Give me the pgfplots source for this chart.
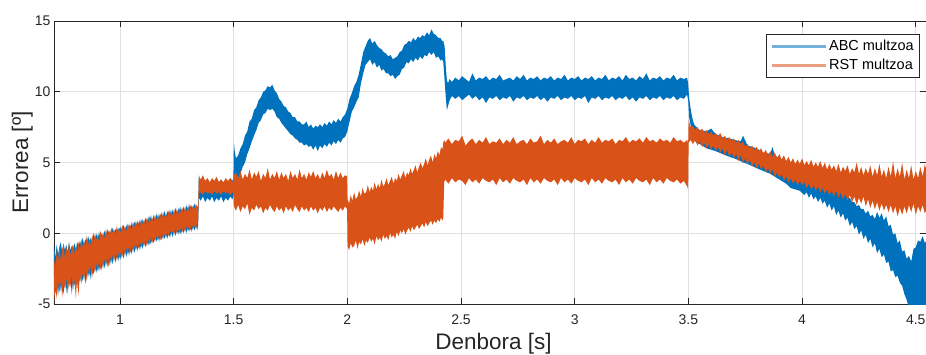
\documentclass[border=0pt]{standalone}
\usepackage{fontspec}
\setmainfont{Liberation Sans}
\usepackage{pgfplots}
\usepackage{pgfplotstable}
\usepgfplotslibrary{fillbetween}
\pgfplotsset{compat=1.18}
\definecolor{mblue}{HTML}{0072BD}
\definecolor{morange}{HTML}{D95319}
\definecolor{axgray}{HTML}{262626}
\definecolor{gridgray}{HTML}{E0E0E0}

% ABC multzoa: envelope (lo, hi) of the noisy trace
\pgfplotstableread{
x lo hi
0.710 -3.1 -0.9
0.716 -4.3 -1.7
0.722 -3.5 -0.8
0.728 -4.4 -1.5
0.734 -3.2 -1.0
0.740 -4.1 -0.6
0.746 -3.5 -1.4
0.752 -4.3 -0.7
0.758 -3.3 -1.2
0.764 -4.2 -0.8
0.770 -3.2 -1.3
0.776 -3.9 -0.6
0.782 -3.1 -1.2
0.788 -4.3 -0.9
0.794 -3.3 -1.1
0.800 -3.7 -0.7
0.806 -3.0 -1.2
0.812 -3.9 -0.6
0.818 -2.9 -1.0
0.824 -3.5 -0.5
0.830 -2.8 -0.9
0.836 -3.4 -0.3
0.842 -2.7 -0.8
0.848 -3.6 -0.4
0.854 -2.6 -0.7
0.860 -3.1 -0.2
0.866 -2.5 -0.6
0.872 -3.3 -0.3
0.878 -2.4 -0.7
0.884 -2.9 0.0
0.890 -2.3 -0.4
0.896 -2.8 0.0
0.902 -2.2 -0.5
0.908 -2.7 0.1
0.914 -2.1 -0.3
0.920 -2.6 0.0
0.926 -1.9 -0.4
0.932 -2.5 0.2
0.938 -1.8 -0.2
0.944 -2.4 0.3
0.950 -1.7 -0.1
0.956 -2.3 0.2
0.962 -1.6 -0.1
0.968 -2.2 0.4
0.974 -1.5 0.0
0.980 -2.1 0.3
0.986 -1.5 0.0
0.992 -2.0 0.4
0.998 -1.4 0.1
1.004 -1.9 0.5
1.010 -1.3 0.1
1.016 -1.8 0.6
1.022 -1.2 0.2
1.028 -1.7 0.6
1.034 -1.1 0.2
1.040 -1.6 0.7
1.046 -1.0 0.3
1.052 -1.5 0.8
1.058 -0.9 0.4
1.064 -1.4 0.8
1.070 -0.8 0.4
1.076 -1.3 0.9
1.082 -0.7 0.5
1.088 -1.2 1.0
1.094 -0.7 0.5
1.100 -1.1 1.0
1.106 -0.6 0.6
1.112 -1.0 1.1
1.118 -0.5 0.7
1.124 -0.9 1.2
1.130 -0.4 0.7
1.136 -0.8 1.3
1.142 -0.4 0.8
1.148 -0.7 1.3
1.154 -0.3 0.9
1.160 -0.6 1.4
1.166 -0.2 0.9
1.172 -0.6 1.4
1.178 -0.1 1.0
1.184 -0.5 1.5
1.190 -0.1 1.0
1.196 -0.4 1.6
1.202 0.0 1.1
1.208 -0.4 1.6
1.214 0.0 1.2
1.220 -0.3 1.7
1.226 0.1 1.2
1.232 -0.3 1.7
1.238 0.2 1.3
1.244 -0.2 1.8
1.250 0.2 1.3
1.256 -0.1 1.8
1.262 0.3 1.4
1.268 -0.1 1.9
1.274 0.3 1.4
1.280 0.0 1.9
1.286 0.4 1.5
1.292 0.0 2.0
1.298 0.4 1.5
1.304 0.1 2.1
1.310 0.5 1.6
1.316 0.1 2.0
1.322 0.5 1.7
1.328 0.2 2.1
1.334 0.6 1.7
1.340 0.2 1.9
1.344 0.6 1.9
1.347 2.5 4.1
1.355 2.3 3.7
1.365 2.6 3.9
1.375 2.2 3.6
1.385 2.5 3.8
1.395 2.3 3.5
1.405 2.6 3.8
1.415 2.2 3.6
1.425 2.5 3.9
1.435 2.3 3.6
1.445 2.6 3.8
1.455 2.2 3.5
1.465 2.5 3.8
1.475 2.3 3.6
1.485 2.6 3.9
1.495 2.4 3.7
1.499 2.6 3.9
1.501 3.0 6.4
1.505 3.5 5.8
1.510 3.7 5.3
1.520 3.9 5.5
1.530 4.2 6.0
1.540 4.7 6.3
1.550 5.0 6.9
1.560 5.6 7.2
1.570 6.0 7.9
1.580 6.5 8.1
1.590 6.9 8.7
1.600 7.3 8.9
1.610 7.8 9.4
1.620 8.0 9.6
1.630 8.4 10.0
1.640 8.5 10.1
1.650 8.8 10.4
1.660 8.7 10.3
1.670 8.8 10.5
1.680 8.6 10.1
1.690 8.2 9.9
1.700 8.1 9.5
1.710 7.8 9.3
1.720 7.6 9.0
1.730 7.4 8.9
1.740 7.2 8.6
1.750 7.0 8.5
1.760 6.9 8.2
1.770 6.7 8.2
1.780 6.6 7.9
1.790 6.4 7.9
1.800 6.4 7.7
1.810 6.2 7.7
1.820 6.3 7.9
1.830 6.1 7.5
1.840 6.2 7.7
1.850 5.9 7.4
1.860 6.2 7.6
1.870 5.8 7.5
1.880 6.2 7.7
1.890 6.0 7.5
1.900 6.3 7.8
1.910 6.1 7.6
1.920 6.4 7.9
1.930 6.2 7.7
1.940 6.5 8.0
1.950 6.3 7.8
1.960 6.6 8.1
1.970 6.4 7.9
1.980 6.7 8.2
1.990 6.8 8.4
2.000 7.2 8.8
2.010 7.9 9.5
2.020 8.6 9.9
2.030 8.9 10.4
2.040 9.3 10.7
2.050 9.6 11.2
2.060 10.6 12.0
2.070 11.3 12.8
2.080 11.9 13.2
2.090 12.1 13.6
2.100 12.3 13.8
2.110 11.9 13.4
2.120 12.1 13.6
2.130 11.7 13.3
2.140 11.9 13.1
2.150 11.5 13.0
2.160 11.6 12.8
2.170 11.3 12.7
2.180 11.3 12.5
2.190 11.1 12.6
2.200 11.2 12.3
2.210 10.9 12.4
2.220 11.1 12.5
2.230 11.2 12.8
2.240 11.6 12.9
2.250 11.7 13.3
2.260 12.1 13.4
2.270 12.0 13.6
2.280 12.3 13.5
2.290 12.1 13.8
2.300 12.4 13.6
2.310 12.2 13.9
2.320 12.5 13.8
2.330 12.3 14.0
2.340 12.6 13.9
2.350 12.5 14.2
2.360 12.8 14.0
2.370 12.6 14.4
2.380 12.8 14.1
2.390 12.4 14.0
2.400 12.5 13.8
2.410 12.2 13.8
2.416 12.3 13.6
2.422 12.1 13.6
2.428 10.8 13.2
2.433 9.6 11.8
2.438 8.7 10.8
2.443 9.0 10.6
2.450 9.4 10.9
2.460 9.7 10.7
2.475 9.5 11.0
2.490 9.7 10.8
2.505 9.4 11.1
2.520 9.6 10.9
2.535 9.8 10.7
2.550 9.5 11.3
2.565 9.7 10.8
2.580 9.4 11.0
2.595 9.6 10.9
2.610 9.2 11.1
2.625 9.6 10.8
2.640 9.5 11.0
2.655 9.7 10.9
2.670 9.4 11.2
2.685 9.6 10.8
2.700 9.5 10.9
2.715 9.7 11.0
2.730 9.3 10.8
2.745 9.6 11.1
2.760 9.5 10.9
2.775 9.7 11.2
2.790 9.4 10.8
2.805 9.6 11.0
2.820 9.5 10.9
2.835 9.7 11.1
2.850 9.4 10.8
2.865 9.6 11.0
2.880 9.3 10.9
2.895 9.6 11.1
2.910 9.5 10.8
2.925 9.7 11.0
2.940 9.4 10.9
2.955 9.6 11.2
2.970 9.5 10.8
2.985 9.7 11.0
3.000 9.4 10.9
3.015 9.6 11.1
3.030 9.5 10.8
3.045 9.7 11.0
3.060 9.2 10.9
3.075 9.6 11.1
3.090 9.5 10.8
3.105 9.7 11.0
3.120 9.4 10.9
3.135 9.6 11.2
3.150 9.5 10.8
3.165 9.7 11.0
3.180 9.4 10.9
3.195 9.6 11.1
3.210 9.5 10.8
3.225 9.7 11.2
3.240 9.4 10.9
3.255 9.6 11.0
3.270 9.3 10.8
3.285 9.6 11.1
3.300 9.5 10.9
3.315 9.7 11.3
3.330 9.4 10.8
3.345 9.6 11.0
3.360 9.5 10.9
3.375 9.7 11.1
3.390 9.4 10.8
3.405 9.6 11.0
3.420 9.5 10.9
3.435 9.7 11.2
3.450 9.4 10.8
3.465 9.6 11.0
3.480 9.5 10.9
3.494 9.8 11.0
3.499 9.4 10.6
3.503 8.2 9.6
3.508 7.8 9.0
3.513 7.4 8.5
3.518 7.0 8.1
3.525 6.6 7.7
3.535 6.4 7.5
3.550 6.3 7.3
3.580 6.0 7.2
3.600 5.9 7.4
3.620 5.8 7.0
3.650 5.6 6.8
3.680 5.4 6.7
3.700 5.3 6.6
3.730 5.1 6.5
3.740 5.0 6.9
3.760 4.9 6.2
3.800 4.6 6.0
3.830 4.4 5.7
3.860 4.2 5.6
3.870 4.1 6.1
3.880 4.0 5.5
3.900 3.8 5.3
3.930 3.5 5.1
3.950 3.2 4.9
3.970 3.1 4.8
3.990 3.0 4.7
4.010 2.7 4.4
4.020 2.9 4.3
4.030 2.5 4.2
4.040 2.8 4.0
4.050 2.4 4.1
4.060 2.6 3.8
4.070 2.2 3.9
4.080 2.5 3.7
4.090 2.1 3.8
4.100 2.3 3.5
4.110 1.8 3.6
4.120 2.1 3.3
4.130 1.6 3.4
4.140 1.9 3.1
4.150 1.3 3.2
4.160 1.6 2.9
4.170 1.1 3.0
4.180 1.4 2.7
4.190 0.9 2.8
4.200 1.1 2.5
4.210 0.5 2.5
4.220 0.8 2.2
4.230 0.3 2.2
4.240 0.5 1.9
4.250 -0.1 2.0
4.260 0.2 1.7
4.270 -0.4 1.7
4.280 -0.1 1.4
4.290 -0.7 1.6
4.300 -0.4 1.2
4.310 -1.0 1.3
4.320 -0.7 1.0
4.330 -1.4 1.5
4.340 -1.1 1.1
4.350 -1.7 1.4
4.360 -1.5 0.9
4.370 -2.1 1.2
4.380 -2.0 0.5
4.390 -2.7 0.6
4.400 -2.6 -0.1
4.410 -3.1 0.0
4.420 -3.0 -0.7
4.430 -3.5 -0.5
4.440 -3.7 -1.3
4.450 -4.3 -1.2
4.460 -4.7 -1.8
4.470 -5.3 -1.6
4.480 -5.5 -2.0
4.490 -5.5 -1.1
4.500 -5.5 -1.0
4.510 -5.5 -0.5
4.520 -5.5 -0.6
4.530 -5.5 -0.2
4.540 -5.5 -0.7
4.550 -5.5 -0.4
}\blueT

% RST multzoa: envelope (lo, hi) of the noisy trace
\pgfplotstableread{
x lo hi
0.710 -5.0 -1.8
0.716 -3.8 -2.4
0.722 -4.6 -1.2
0.728 -3.5 -2.0
0.734 -4.2 -0.9
0.740 -3.3 -1.9
0.746 -4.5 -1.1
0.752 -3.6 -0.8
0.758 -3.9 -1.8
0.764 -3.1 -1.0
0.770 -4.3 -1.5
0.776 -3.4 -0.7
0.782 -3.8 -1.6
0.788 -3.0 -1.0
0.794 -4.0 -0.8
0.800 -3.2 -1.5
0.806 -4.6 -0.9
0.812 -3.1 -1.3
0.818 -4.4 -0.6
0.824 -2.9 -1.2
0.830 -3.6 -0.4
0.836 -2.8 -1.0
0.842 -3.3 -0.6
0.848 -2.6 -0.9
0.854 -3.4 -0.2
0.860 -2.5 -0.8
0.866 -3.0 -0.4
0.872 -2.3 -0.9
0.878 -3.1 -0.1
0.884 -2.4 -0.6
0.890 -2.8 0.0
0.896 -2.1 -0.5
0.902 -2.7 -0.1
0.908 -2.0 -0.6
0.914 -2.6 0.2
0.920 -2.0 -0.3
0.926 -2.5 0.1
0.932 -1.8 -0.4
0.938 -2.3 0.3
0.944 -1.7 -0.2
0.950 -2.4 0.2
0.956 -1.6 -0.1
0.962 -2.1 0.4
0.968 -1.5 0.0
0.974 -2.0 0.3
0.980 -1.4 -0.1
0.986 -1.9 0.5
0.992 -1.3 0.1
0.998 -1.8 0.4
1.004 -1.3 0.0
1.010 -1.7 0.6
1.016 -1.1 0.2
1.022 -1.6 0.5
1.028 -1.0 0.1
1.034 -1.5 0.7
1.040 -0.9 0.3
1.046 -1.4 0.6
1.052 -0.9 0.2
1.058 -1.3 0.8
1.064 -0.8 0.4
1.070 -1.2 0.9
1.076 -0.7 0.4
1.082 -1.1 0.8
1.088 -0.6 0.5
1.094 -1.0 1.0
1.100 -0.6 0.6
1.106 -0.9 1.0
1.112 -0.5 0.6
1.118 -0.9 1.1
1.124 -0.4 0.7
1.130 -0.8 1.2
1.136 -0.3 0.8
1.142 -0.7 1.1
1.148 -0.3 0.8
1.154 -0.6 1.3
1.160 -0.2 0.9
1.166 -0.5 1.3
1.172 -0.1 0.9
1.178 -0.5 1.4
1.184 0.0 1.0
1.190 -0.4 1.5
1.196 0.0 1.1
1.202 -0.3 1.4
1.208 0.1 1.1
1.214 -0.2 1.6
1.220 0.2 1.2
1.226 -0.1 1.6
1.232 0.2 1.2
1.238 -0.1 1.7
1.244 0.3 1.3
1.250 0.0 1.7
1.256 0.3 1.3
1.262 0.0 1.8
1.268 0.4 1.4
1.274 0.1 1.8
1.280 0.4 1.4
1.286 0.1 1.9
1.292 0.5 1.5
1.298 0.2 1.9
1.304 0.5 1.5
1.310 0.2 2.0
1.316 0.6 1.6
1.322 0.3 2.0
1.328 0.6 1.7
1.334 0.3 2.1
1.340 0.7 1.8
1.344 0.7 2.0
1.347 2.8 4.0
1.355 2.9 3.8
1.365 2.7 4.1
1.375 3.0 3.7
1.385 2.8 3.9
1.395 2.9 3.6
1.405 2.7 3.9
1.415 3.0 3.7
1.425 2.8 4.0
1.435 2.9 3.6
1.445 2.7 3.8
1.455 3.0 3.6
1.465 2.8 3.9
1.475 2.9 3.7
1.485 2.7 3.9
1.495 2.9 3.6
1.499 2.8 3.8
1.501 1.9 4.1
1.510 1.6 4.3
1.520 2.0 3.9
1.530 1.5 4.4
1.540 1.9 3.8
1.550 1.7 4.2
1.560 2.1 3.9
1.570 1.3 4.5
1.580 1.8 3.8
1.590 1.6 4.3
1.600 2.0 4.0
1.610 1.7 4.4
1.620 1.9 3.7
1.630 1.4 4.2
1.640 1.8 3.9
1.650 1.6 4.6
1.660 2.0 3.8
1.670 1.7 4.2
1.680 1.5 3.9
1.690 1.9 4.4
1.700 1.6 3.8
1.710 1.8 4.3
1.720 1.4 3.9
1.730 1.9 4.2
1.740 1.6 3.7
1.750 1.8 4.4
1.760 1.5 3.9
1.770 2.0 4.2
1.780 1.7 3.8
1.790 1.5 4.5
1.800 1.9 3.9
1.810 1.6 4.2
1.820 1.8 3.8
1.830 1.5 4.3
1.840 1.9 4.0
1.850 1.6 4.4
1.860 1.8 3.9
1.870 1.4 4.2
1.880 1.8 3.8
1.890 1.6 4.3
1.900 1.9 3.9
1.910 1.5 4.5
1.920 1.8 4.0
1.930 1.6 4.2
1.940 1.9 3.8
1.950 1.7 4.4
1.960 1.5 3.9
1.970 1.8 4.3
1.980 1.6 3.9
1.990 1.9 4.1
1.999 1.7 4.0
2.001 -0.9 2.4
2.008 -1.2 2.1
2.015 -0.7 2.7
2.022 -1.0 2.3
2.030 -0.9 2.9
2.037 -0.5 2.4
2.045 -1.1 2.6
2.052 -0.6 3.0
2.060 -0.8 2.6
2.067 -0.4 3.2
2.075 -0.9 2.8
2.083 -0.5 2.9
2.090 -0.7 3.4
2.098 -0.3 2.9
2.105 -0.6 3.3
2.113 -0.4 3.0
2.120 -0.8 3.6
2.128 -0.2 3.1
2.135 -0.5 3.5
2.143 -0.3 3.2
2.150 -0.6 3.8
2.158 -0.1 3.3
2.165 -0.4 3.5
2.173 -0.2 3.9
2.180 -0.5 3.4
2.188 0.0 3.7
2.195 -0.3 4.0
2.203 -0.1 3.5
2.210 -0.4 3.9
2.218 0.1 3.7
2.225 -0.2 4.2
2.233 0.2 3.8
2.240 0.0 4.1
2.248 0.3 4.4
2.255 -0.1 3.9
2.263 0.2 4.3
2.270 0.4 4.1
2.278 0.1 4.6
2.285 0.5 4.2
2.293 0.2 4.5
2.300 0.4 4.8
2.308 0.6 4.3
2.315 0.3 4.7
2.323 0.5 5.0
2.330 0.7 4.6
2.338 0.4 4.9
2.345 0.8 5.3
2.353 0.5 4.8
2.360 0.7 5.2
2.368 0.9 5.5
2.375 0.6 5.0
2.383 0.9 5.6
2.390 0.7 5.3
2.398 1.0 5.8
2.405 0.8 5.5
2.412 1.1 6.1
2.418 0.9 5.9
2.422 1.1 6.4
2.426 3.6 6.6
2.430 3.8 6.4
2.445 3.5 6.7
2.460 3.9 6.3
2.475 3.6 6.6
2.490 3.8 6.5
2.505 3.7 6.9
2.520 3.4 6.2
2.535 3.9 6.5
2.550 3.6 6.7
2.565 3.8 6.3
2.580 3.5 6.6
2.595 3.9 6.4
2.610 3.7 6.8
2.625 3.6 6.3
2.640 3.8 6.5
2.655 3.4 6.4
2.670 3.9 6.7
2.685 3.6 6.3
2.700 3.8 6.6
2.715 3.5 6.4
2.730 3.9 6.8
2.745 3.7 6.3
2.760 3.6 6.5
2.775 3.8 6.6
2.790 3.4 6.3
2.805 3.9 6.7
2.820 3.6 6.4
2.835 3.8 6.5
2.850 3.5 6.9
2.865 3.9 6.3
2.880 3.7 6.6
2.895 3.6 6.4
2.910 3.8 6.7
2.925 3.4 6.3
2.940 3.9 6.5
2.955 3.6 6.6
2.970 3.8 6.4
2.985 3.5 6.8
3.000 3.9 6.3
3.015 3.7 6.6
3.030 3.6 6.5
3.045 3.8 6.7
3.060 3.4 6.3
3.075 3.9 6.6
3.090 3.6 6.4
3.105 3.8 6.8
3.120 3.5 6.4
3.135 3.9 6.6
3.150 3.7 6.5
3.165 3.6 6.7
3.180 3.8 6.3
3.195 3.4 6.6
3.210 3.9 6.5
3.225 3.6 6.8
3.240 3.8 6.4
3.255 3.5 6.6
3.270 3.9 6.5
3.285 3.7 6.7
3.300 3.6 6.4
3.315 3.8 6.8
3.330 3.4 6.5
3.345 3.9 6.6
3.360 3.6 6.4
3.375 3.8 6.7
3.390 3.5 6.5
3.405 3.9 6.6
3.420 3.7 6.4
3.435 3.6 6.8
3.450 3.8 6.5
3.465 3.5 6.6
3.480 3.7 6.4
3.495 3.3 6.6
3.499 3.1 6.3
3.501 6.4 8.0
3.510 6.6 7.5
3.520 6.3 7.6
3.530 6.6 7.3
3.540 6.2 7.5
3.550 6.5 7.2
3.560 6.1 7.4
3.570 6.4 7.1
3.580 6.0 7.3
3.590 6.3 7.0
3.600 5.9 7.2
3.610 6.2 6.9
3.620 5.8 7.1
3.630 6.1 6.8
3.640 5.7 7.1
3.650 6.0 6.7
3.660 5.5 6.9
3.670 5.9 6.6
3.680 5.4 6.8
3.690 5.7 6.5
3.700 5.3 6.7
3.710 5.6 6.4
3.720 5.1 6.6
3.730 5.5 6.3
3.740 5.0 6.5
3.750 5.3 6.1
3.760 4.9 6.3
3.770 5.2 6.0
3.780 4.7 6.2
3.790 5.0 5.9
3.800 4.6 6.1
3.810 4.9 5.8
3.820 4.5 6.0
3.830 4.8 5.6
3.840 4.3 5.9
3.850 4.6 5.5
3.860 4.2 5.8
3.870 4.5 5.4
3.880 4.0 5.7
3.890 4.3 5.3
3.900 3.9 5.6
3.910 4.2 5.2
3.920 3.7 5.5
3.930 4.0 5.1
3.940 3.6 5.4
3.950 3.9 5.0
3.960 3.5 5.3
3.970 3.8 4.9
3.980 3.4 5.2
3.990 3.7 4.9
4.000 3.4 5.3
4.010 3.6 4.8
4.020 3.2 5.1
4.030 3.5 4.8
4.040 3.1 5.2
4.050 3.4 4.7
4.060 3.0 5.0
4.070 3.3 4.7
4.080 2.9 5.1
4.090 3.2 4.6
4.100 2.8 5.0
4.110 3.1 4.5
4.120 2.7 4.9
4.130 3.0 4.5
4.140 2.6 4.8
4.150 3.0 4.4
4.160 2.5 4.9
4.170 2.9 4.3
4.180 2.4 4.7
4.190 2.8 4.4
4.200 2.3 4.8
4.210 2.7 4.2
4.220 2.2 4.6
4.230 2.6 4.3
4.240 2.0 5.0
4.250 2.5 4.2
4.260 2.1 4.7
4.270 2.6 4.1
4.280 1.9 4.6
4.290 2.4 4.2
4.300 1.8 4.8
4.310 2.3 4.0
4.320 1.7 4.6
4.330 2.2 4.1
4.340 1.6 4.9
4.350 2.1 4.0
4.360 1.6 4.5
4.370 2.0 3.9
4.380 1.5 4.7
4.390 2.0 4.0
4.400 1.4 5.1
4.410 1.9 3.9
4.420 1.2 4.6
4.430 1.8 4.0
4.440 1.3 5.0
4.450 1.9 3.8
4.460 1.4 4.5
4.470 2.0 3.9
4.480 1.5 4.8
4.490 2.1 3.8
4.500 1.3 4.4
4.510 1.9 3.9
4.520 1.5 4.7
4.530 2.0 4.0
4.540 1.4 4.9
4.550 1.8 4.2
}\orangeT

\begin{document}
\begin{tikzpicture}
\begin{axis}[
  at={(0,0)}, anchor=south west,
  scale only axis, width=872pt, height=283pt,
  xmin=0.71, xmax=4.545, ymin=-5, ymax=15,
  xtick={1,1.5,2,2.5,3,3.5,4,4.5},
  ytick={-5,0,5,10,15},
  grid=major, grid style={gridgray, line width=0.6pt},
  axis line style={axgray, line width=0.8pt},
  tick style={axgray, line width=0.8pt},
  tick align=inside, major tick length=6pt,
  /pgf/number format/assume math mode=true,
  ticklabel style={font=\fontsize{14}{16}\selectfont, text=axgray},
  xticklabel style={anchor=base, yshift=-20pt},
  xlabel={Denbora [s]}, ylabel={Errorea [º]},
  every axis x label/.style={at={(axis description cs:0.504,-0.1625)}, anchor=base, font=\fontsize{22.5}{26}\selectfont, text=axgray},
  every axis y label/.style={at={(axis description cs:-0.0298,0.5)}, rotate=90, anchor=base, font=\fontsize{22.5}{26}\selectfont, text=axgray},
  legend style={at={(axis description cs:0.9931,0.954)}, anchor=north east,
    draw=axgray, line width=0.6pt, fill=white, font=\fontsize{14.5}{17}\selectfont,
    inner xsep=4pt, inner ysep=4pt, row sep=3pt},
  legend cell align=left,
  legend image code/.code={\draw[#1, line width=2.5pt] (0pt,0pt) -- (54pt,0pt);},
]
\addplot[draw=none, forget plot, name path=bhi] table[x=x, y=hi] {\blueT};
\addplot[draw=none, forget plot, name path=blo] table[x=x, y=lo] {\blueT};
\addplot[fill=mblue, draw=none, forget plot] fill between[of=bhi and blo];
\addplot[draw=none, forget plot, name path=ohi] table[x=x, y=hi] {\orangeT};
\addplot[draw=none, forget plot, name path=olo] table[x=x, y=lo] {\orangeT};
\addplot[fill=morange, draw=none, forget plot] fill between[of=ohi and olo];
\addlegendimage{color=mblue!55!white}
\addlegendentry{ABC multzoa}
\addlegendimage{color=morange!55!white}
\addlegendentry{RST multzoa}
\end{axis}
\pgfresetboundingbox
\useasboundingbox (-54pt,-50pt) rectangle (872pt,304pt);
\end{tikzpicture}
\end{document}
